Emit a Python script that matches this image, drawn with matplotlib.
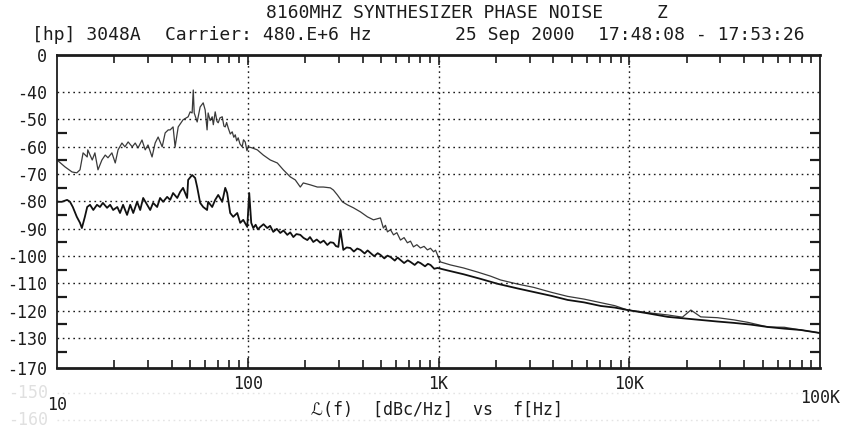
import matplotlib
matplotlib.use("Agg")
import matplotlib.pyplot as plt
from matplotlib.ticker import FixedLocator, NullFormatter, LogLocator

# trace 1 (upper, lighter): frequency [Hz], L(f) [dBc/Hz]
upper_f = [10.0, 11.0, 12.0, 12.7, 13.2, 13.7, 14.4, 14.5, 15.3, 15.8, 16.4, 17.2, 17.9,
           18.5, 19.4, 20.2, 20.9, 21.9, 22.7, 23.6, 24.8, 25.7, 26.6, 27.9, 29.0, 30.0,
           31.5, 32.7, 33.9, 35.6, 36.9, 38.3, 39.2, 40.6, 41.6, 43.2, 45.8, 48.7, 49.9,
           51.1, 51.8, 52.4, 54.3, 56.3, 58.4, 59.8, 61.2, 62.0, 63.5, 65.1, 66.0, 67.5,
           69.0, 70.0, 71.5, 73.5, 75.0, 76.2, 77.5, 79.0, 81.0, 82.9, 84.5, 86.0, 87.5,
           89.1, 91.0, 93.5, 95.0, 97.0, 99.0, 100.6, 105.6, 112.2, 120.6, 131.2, 142.9,
           153.6, 167.2, 177.5, 188.6, 195.5, 212.8, 231.6, 249.0, 271.0, 281.2, 295.1,
           313.3, 332.7, 358.1, 390, 424, 456, 496, 514, 527, 540, 560, 581, 605, 632,
           660, 687, 713, 739, 770, 804, 840, 875, 908, 942, 965, 988, 1024, 1156, 1352,
           1602, 1875, 2116, 2600, 3153, 3900, 4753, 5800, 7079, 8400, 9817, 12970,
           15920, 19000, 21040, 23710, 29000, 35390, 41880, 53330, 65000, 79430, 100000]
upper_db = [-64.9, -67.4, -69.3, -69.6, -68.5, -62.3, -63.8, -61.2, -64.9, -62.3, -68.5, -64.9, -63.1,
            -64.1, -62.3, -66.0, -61.2, -58.7, -60.1, -58.3, -60.1, -58.7, -60.5, -57.6, -61.2, -59.4,
            -63.8, -58.7, -56.5, -60.1, -55.0, -53.9, -53.9, -52.8, -60.1, -52.8, -50.2, -49.1, -47.3,
            -47.7, -39.3, -47.7, -51.0, -45.5, -44.0, -46.6, -53.9, -47.7, -50.5, -49.1, -52.0, -47.3,
            -50.8, -51.3, -49.5, -49.1, -52.5, -52.8, -51.2, -53.2, -55.4, -54.6, -56.6, -55.7, -57.9,
            -56.8, -59.0, -60.1, -57.5, -58.3, -61.5, -60.1, -60.5, -61.2, -63.1, -64.9, -66.0,
            -68.5, -71.1, -72.2, -74.8, -73.3, -74.0, -74.8, -74.8, -75.1, -75.9, -77.7,
            -80.2, -81.3, -82.4, -83.9, -85.7, -86.8, -86.1, -89.8, -88.8, -91.2, -90.4, -92.3, -91.5, -94.2,
            -93.3, -95.2, -94.6, -96.7, -95.9, -97.1, -96.5, -97.8, -97.2, -98.5, -97.9, -99.6, -102.2, -103.3, -104.4,
            -105.9, -107.4, -108.8, -110.3, -111.5, -113.3, -114.8, -115.8, -117.1, -118.2, -119.8, -120.9,
            -121.6, -122.4, -119.8, -122.3, -122.6, -123.4, -124.3, -126.0, -126.1, -127.1, -128.2]

# trace 2 (lower, heavier)
lower_f = [10.0, 10.6, 11.3, 11.7, 12.1, 12.7, 13.2, 13.5, 14.0, 14.4, 14.9, 15.5, 16.2,
           16.8, 17.4, 18.3, 19.0, 19.7, 20.7, 21.4, 22.2, 23.3, 24.2, 25.1, 26.3, 27.3,
           28.3, 29.7, 30.8, 31.9, 33.5, 34.7, 36.0, 37.8, 39.2, 40.6, 42.7, 44.2, 45.8,
           48.1, 48.7, 51.1, 53.0, 54.3, 56.3, 58.4, 61.2, 62.0, 65.1, 67.5, 70.0, 73.5,
           76.2, 78.0, 80.9, 83.9, 88.1, 91.3, 94.7, 99.4, 101.8, 104.3, 106.9, 110, 113,
           116.3, 121, 126.5, 131, 136.1, 142, 148.1, 154, 161.2, 167, 173.4, 180, 188.6,
           196, 205.3, 212, 220.6, 230, 240.2, 250, 261.4, 271, 281.2, 290, 298.5, 306,
           317, 330, 345, 360, 375, 390, 410, 425, 440, 460, 480, 496, 520, 540, 560, 590,
           610, 632, 660, 690, 713, 750, 780, 804, 850, 880, 908, 950, 988, 1114, 1352,
           1662, 2042, 2600, 3153, 3900, 4753, 5800, 7079, 8400, 9817, 12500, 15920,
           19000, 23710, 29000, 35390, 43000, 53330, 65000, 79430, 100000]
lower_db = [-80.2, -80.2, -79.5, -80.2, -82.1, -85.7, -87.9, -89.8, -85.7, -82.1, -81.3, -83.2, -81.3,
            -82.1, -80.6, -82.4, -81.3, -83.2, -82.1, -84.3, -81.3, -85.0, -81.3, -84.3, -80.2, -83.2,
            -78.8, -81.3, -83.2, -80.6, -82.1, -78.8, -80.2, -78.4, -79.5, -77.0, -78.8, -76.6, -75.1,
            -78.8, -72.2, -70.4, -71.5, -74.8, -80.6, -82.1, -83.2, -80.2, -82.1, -79.5, -77.7, -80.2,
            -75.1, -77.0, -84.3, -85.7, -84.3, -87.9, -86.8, -89.4, -77.0, -87.9, -89.8, -88.6, -90.3,
            -89.4, -88.4, -89.8, -89.0, -91.2, -90.1, -91.6, -90.7, -92.3, -91.4, -93.1, -92.0, -92.3,
            -93.4, -94.2, -93.1, -94.9, -94.0, -95.2, -94.4, -96.0, -95.0, -95.2, -96.4, -96.7, -90.5,
            -97.8, -96.9, -97.1, -98.4, -97.3, -97.8, -99.1, -98.0, -98.9, -100.1, -99.0, -99.6, -100.9, -99.9, -100.4, -101.7,
            -100.6, -101.5, -102.6, -101.6, -102.2, -103.3, -102.2, -102.6, -103.8, -102.9, -103.3, -104.7, -104.4, -105.3, -106.7,
            -108.4, -110.2, -111.9, -113.2, -114.6, -116.1, -117.0, -118.3, -118.9, -119.8, -121.0, -122.3,
            -122.8, -123.4, -124.0, -124.5, -125.1, -126.0, -126.6, -127.1, -128.2]

y_ticks = [-40, -50, -60, -70, -80, -90, -100, -110, -120, -130]
y_top, y_bottom = -26.5, -141.0          # frame edges, printed as "0" and "-170"
x_ticks = [100, 1000, 10000]
x_ticklabels = ["100", "1K", "10K"]

ink = "#1c1c1c"
mono = ["DejaVu Sans Mono", "DejaVu Sans"]
plt.rcParams["font.family"] = mono

fig = plt.figure(figsize=(8.45, 4.3), dpi=100)
fig.patch.set_facecolor("white")
ax = fig.add_axes([57 / 845, 62 / 430, 763 / 845, 313 / 430])

ax.plot(upper_f, upper_db, color="#3a3a3a", lw=0.9)
ax.plot(lower_f, lower_db, color="#111111", lw=1.3)

ax.set_xscale("log")
ax.set_xlim(10, 100000)
ax.set_ylim(y_bottom, y_top)

# dotted plotter grid
dots = (0, (1.2, 2.6))
for v in y_ticks:
    ax.axhline(v, color=ink, lw=1.0, ls=dots)
for v in x_ticks:
    ax.axvline(v, color=ink, lw=1.0, ls=dots)

# faint ghost rows below the frame (scan artefact)
for v, lab in [(-150, "-150"), (-160, "-160")]:
    ax.plot([10, 100000], [v, v], color="#e4e4e4", lw=1.0, ls=dots, clip_on=False)
    ax.text(-0.012, v, lab, transform=ax.get_yaxis_transform(), ha="right", va="center",
            fontsize=12, color="#e0e0e0")

for side in ["top", "bottom"]:
    ax.spines[side].set_linewidth(2.0)
for side in ["left", "right"]:
    ax.spines[side].set_linewidth(1.3)
for s in ax.spines.values():
    s.set_color(ink)

ax.set_xticks(x_ticks)
ax.set_xticklabels(x_ticklabels)
ax.xaxis.set_minor_locator(LogLocator(base=10, subs=range(2, 10)))
ax.xaxis.set_minor_formatter(NullFormatter())
ax.set_yticks([y_top] + y_ticks + [y_bottom])
ax.set_yticklabels(["0"] + [str(v) for v in y_ticks] + ["-170"])
ax.yaxis.set_minor_locator(FixedLocator([v - 5 for v in y_ticks[1:]]))

ax.tick_params(axis="both", which="both", direction="in", top=True, right=True, colors=ink)
ax.tick_params(axis="x", which="major", length=7, width=1.2, pad=5, labelsize=12)
ax.tick_params(axis="x", which="minor", length=6, width=1.2)
ax.tick_params(axis="y", which="major", length=0, pad=7, labelsize=12)
ax.tick_params(axis="y", which="minor", length=7, width=1.6)

ax.text(10, -0.118, "10", transform=ax.get_xaxis_transform(), ha="center", va="center",
        fontsize=12, color=ink)
ax.text(100000, -0.095, "100K", transform=ax.get_xaxis_transform(), ha="center", va="center",
        fontsize=12, color=ink, clip_on=False)
fig.text(437 / 845, 1 - 410 / 430, "\u2112(f)  [dBc/Hz]  vs  f[Hz]", ha="center", va="center",
         fontsize=12, color=ink)

fig.text(435 / 845, 1 - 13 / 430, "8160MHZ SYNTHESIZER PHASE NOISE", ha="center", va="center",
         fontsize=13, color=ink)
fig.text(662 / 845, 1 - 13 / 430, "Z", ha="center", va="center", fontsize=13, color=ink)
for xl, txt in [(32, "[hp] 3048A"), (165, "Carrier: 480.E+6 Hz"),
                (455, "25 Sep 2000"), (598, "17:48:08 - 17:53:26")]:
    fig.text(xl / 845, 1 - 35 / 430, txt, ha="left", va="center", fontsize=13, color=ink)

fig.savefig("out.png", dpi=100, facecolor="white")
